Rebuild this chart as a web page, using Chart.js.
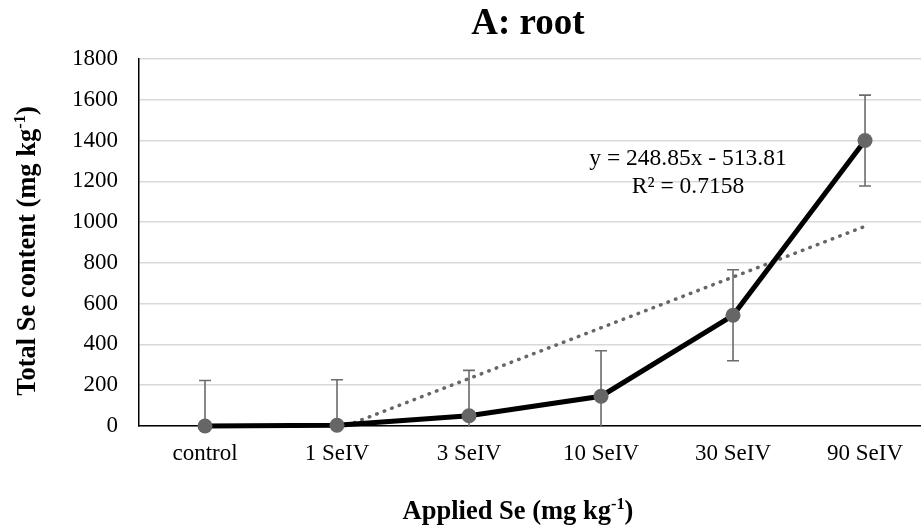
<!DOCTYPE html>
<html>
<head>
<meta charset="utf-8">
<script src="https://cdn.jsdelivr.net/npm/chart.js@4/dist/chart.umd.min.js"></script>
<style>
  html, body { margin: 0; padding: 0; background: #fff; overflow: hidden; }
  #wrap { width: 921px; height: 528px; position: relative; }
</style>
</head>
<body>
<div id="wrap"><canvas id="c" width="921" height="528"></canvas></div>
<script>
// Selenite treatments and total Se measured in roots
const categories = ['control', '1 SeIV', '3 SeIV', '10 SeIV', '30 SeIV', '90 SeIV'];
const totalSe = [0, 4, 50, 146, 543, 1400];
const errorSe = [223, 223, 223, 223, 223, 223];
const yTicks = [0, 200, 400, 600, 800, 1000, 1200, 1400, 1600, 1800];

// Linear trendline fitted over category index 1..6
const trendSlope = 248.85;
const trendIntercept = -513.81;
const trendR2 = 0.7158;

const chartTitle = 'A: root';
const yTitle = [{ t: 'Total Se content (mg kg' }, { t: '-1', sup: true }, { t: ')' }];
const xTitle = [{ t: 'Applied Se (mg kg' }, { t: '-1', sup: true }, { t: ')' }];

const SERIF = "'Liberation Serif', 'Times New Roman', serif";

function richWidth(ctx, parts, size) {
  let w = 0;
  for (const p of parts) {
    ctx.font = 'bold ' + (p.sup ? size * 0.62 : size) + 'px ' + SERIF;
    w += ctx.measureText(p.t).width;
  }
  return w;
}
function drawRich(ctx, parts, x, y, size) {
  // x is the starting point, y the baseline
  let cx = x;
  for (const p of parts) {
    const s = p.sup ? size * 0.62 : size;
    ctx.font = 'bold ' + s + 'px ' + SERIF;
    ctx.fillText(p.t, cx, p.sup ? y - size * 0.36 : y);
    cx += ctx.measureText(p.t).width;
  }
}

const errorBars = {
  id: 'errorBars',
  beforeDatasetsDraw(chart) {
    const { ctx, chartArea, scales } = chart;
    ctx.save();
    ctx.beginPath();
    ctx.rect(chartArea.left, chartArea.top, chartArea.right - chartArea.left, chartArea.bottom - chartArea.top);
    ctx.clip();
    ctx.strokeStyle = '#6b6b6b';
    ctx.lineWidth = 1.6;
    const cap = 6;
    totalSe.forEach((v, i) => {
      const x = scales.x.getPixelForValue(i + 1);
      const yHi = scales.y.getPixelForValue(v + errorSe[i]);
      const yLo = scales.y.getPixelForValue(v - errorSe[i]);
      ctx.beginPath();
      ctx.moveTo(x, yHi); ctx.lineTo(x, yLo);
      ctx.moveTo(x - cap, yHi); ctx.lineTo(x + cap, yHi);
      ctx.moveTo(x - cap, yLo); ctx.lineTo(x + cap, yLo);
      ctx.stroke();
    });
    ctx.restore();
  }
};

const annotations = {
  id: 'annotations',
  afterDraw(chart) {
    const { ctx } = chart;
    ctx.save();
    ctx.fillStyle = '#000';
    ctx.textBaseline = 'alphabetic';

    // chart title
    ctx.font = 'bold 37px ' + SERIF;
    ctx.textAlign = 'center';
    ctx.fillText(chartTitle, 528, 34);

    // trendline equation
    ctx.font = '23.5px ' + SERIF;
    const sign = trendIntercept < 0 ? ' - ' : ' + ';
    ctx.fillText('y = ' + trendSlope.toFixed(2) + 'x' + sign + Math.abs(trendIntercept).toFixed(2), 688, 165);
    ctx.fillText('R\u00B2 = ' + trendR2.toFixed(4), 688, 192.5);

    // axis titles
    ctx.textAlign = 'left';
    const size = 26.5;
    const wx = richWidth(ctx, xTitle, size);
    drawRich(ctx, xTitle, 518 - wx / 2, 518.5, size);

    const wy = richWidth(ctx, yTitle, size);
    ctx.translate(34.5, 251);
    ctx.rotate(-Math.PI / 2);
    drawRich(ctx, yTitle, -wy / 2, 0, size);
    ctx.restore();
  }
};

const mainData = categories.map((c, i) => ({ x: i + 1, y: totalSe[i] }));
const trendData = [1, categories.length].map(x => ({ x, y: trendSlope * x + trendIntercept }));

new Chart(document.getElementById('c'), {
  type: 'line',
  data: {
    datasets: [
      {
        label: 'Total Se',
        data: mainData,
        borderColor: '#000',
        borderWidth: 5,
        pointRadius: 7.5,
        pointBackgroundColor: '#666',
        pointBorderWidth: 0,
        tension: 0,
        clip: false,
        order: 0
      },
      {
        label: 'Linear trend',
        data: trendData,
        borderColor: '#666',
        borderWidth: 3.5,
        borderDash: [0.5, 7.5],
        borderCapStyle: 'round',
        pointRadius: 0,
        tension: 0,
        clip: 0,
        order: 1
      }
    ]
  },
  options: {
    responsive: false,
    animation: false,
    devicePixelRatio: 1,
    layout: { autoPadding: false, padding: { top: 59, left: 0, right: 0, bottom: 0 } },
    plugins: { legend: { display: false }, title: { display: false }, tooltip: { enabled: false } },
    scales: {
      x: {
        type: 'linear',
        min: 0.5,
        max: 6.424,
        grid: { display: false, drawTicks: false },
        border: { color: '#000', width: 1.5 },
        ticks: {
          color: '#000',
          font: { family: SERIF, size: 23 },
          padding: 14,
          maxRotation: 0,
          callback: v => categories[v - 1] || ''
        },
        afterBuildTicks: s => { s.ticks = categories.map((c, i) => ({ value: i + 1 })); },
        afterFit: s => { s.height = 102; s.paddingLeft = 0; s.paddingRight = 0; }
      },
      y: {
        min: 0,
        max: 1800,
        grid: { color: '#d9d9d9', lineWidth: 1.5, drawTicks: false },
        border: { color: '#000', width: 1.5 },
        ticks: {
          color: '#000',
          font: { family: SERIF, size: 23 },
          padding: 21,
          callback: v => String(v)
        },
        afterBuildTicks: s => { s.ticks = yTicks.map(v => ({ value: v })); },
        afterFit: s => { s.width = 139; s.paddingTop = 0; s.paddingBottom = 0; }
      }
    }
  },
  plugins: [errorBars, annotations]
});
</script>
</body>
</html>
